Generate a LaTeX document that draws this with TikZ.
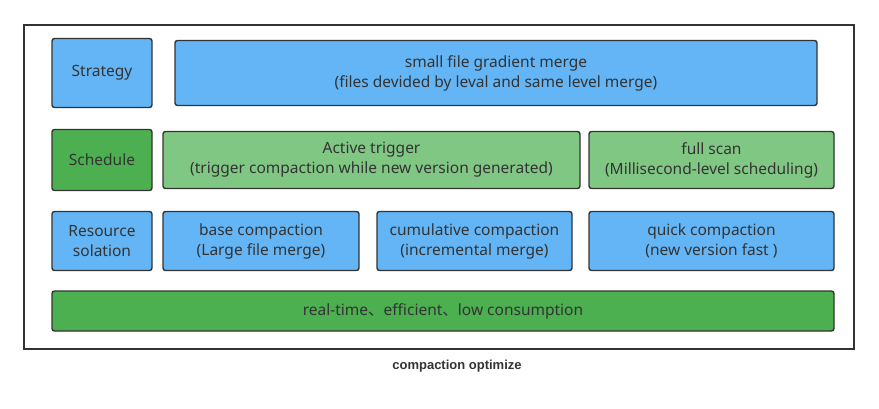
\documentclass[tikz,border=0pt]{standalone}
\usepackage{fontspec}
\setmainfont{Noto Sans}
\newfontfamily\cjk{Noto Sans CJK SC}
\newfontfamily\capfont{Liberation Sans}
\usepackage{tikz}
\usetikzlibrary{positioning}
\definecolor{boxblue}{HTML}{64B5F6}
\definecolor{boxlight}{HTML}{81C784}
\definecolor{boxdark}{HTML}{4CAF50}
\definecolor{ink}{HTML}{333333}
\tikzstyle{layer} = [draw=ink, line width=1.4pt, rounded corners=2.5pt, text=ink, align=center, inner sep=0pt, font=\fontsize{15.5}{20}\selectfont]
\tikzstyle{bluebox} = [layer, fill=boxblue]
\tikzstyle{lightbox} = [layer, fill=boxlight]
\tikzstyle{darkbox} = [layer, fill=boxdark]

\begin{document}
\begin{tikzpicture}[x=1pt,y=-1pt]
  \useasboundingbox (0,0) rectangle (879,409);
  \draw[ink, line width=1.5pt] (24,25) rectangle (854,349);

  % strategy row
  \node[bluebox, minimum width=100pt, minimum height=69pt] (strategy) at (102,73) {Strategy};
  \node[bluebox, minimum width=642pt, minimum height=65pt] (gradient) at (496,73)
      {small file gradient merge\\(files devided by leval and same level merge)};

  % schedule row
  \node[darkbox, minimum width=100pt, minimum height=61pt] (schedule) at (102,160) {Schedule};
  \node[lightbox, minimum width=417pt, minimum height=57pt] (active) at (371.5,160)
      {Active trigger\\(trigger compaction while new version generated)};
  \node[lightbox, minimum width=245pt, minimum height=57pt] (fullscan) at (711.5,160)
      {full scan\\(Millisecond-level scheduling)};

  % resource row
  \node[bluebox, minimum width=100pt, minimum height=59pt] (resource) at (102,241) {Resource\\solation};
  \node[bluebox, minimum width=196pt, minimum height=59pt] (base) at (261,241)
      {base compaction\\(Large file merge)};
  \node[bluebox, minimum width=195pt, minimum height=59pt] (cumulative) at (474.5,241)
      {cumulative compaction\\(incremental merge)};
  \node[bluebox, minimum width=245pt, minimum height=59pt] (quick) at (711.5,241)
      {quick compaction\\(new version fast )};

  % goal
  \node[darkbox, minimum width=782pt, minimum height=40pt] (goal) at (443,311)
      {real-time{\cjk 、}efficient{\cjk 、}low consumption};

  \node[text=ink, font=\capfont\fontsize{13}{15}\selectfont\bfseries] (caption) at (457,366) {compaction optimize};
\end{tikzpicture}
\end{document}
